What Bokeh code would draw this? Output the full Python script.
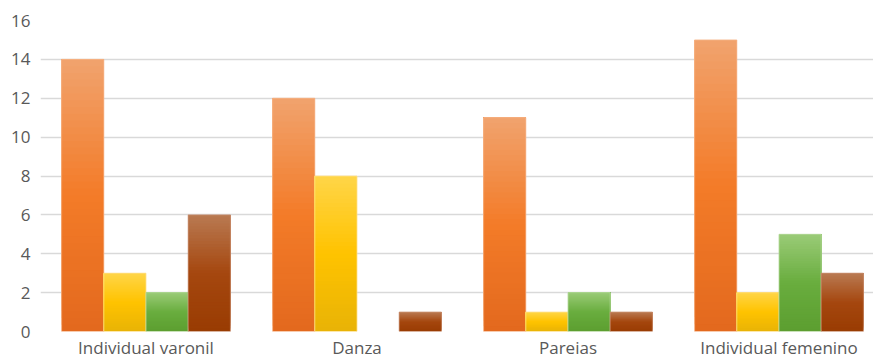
import numpy as np
from bokeh.plotting import figure
from bokeh.models import Range1d, FixedTicker
from bokeh.embed import file_html
from bokeh.resources import INLINE

categories = ["Individual varonil", "Danza", "Pareias", "Individual femenino"]
series_a = [14, 12, 11, 15]
series_b = [3, 8, 1, 2]
series_c = [2, 0, 2, 5]
series_d = [6, 1, 1, 3]
y_ticks = [0, 2, 4, 6, 8, 10, 12, 14, 16]

series = [series_a, series_b, series_c, series_d]
# gradient stops: bottom, middle, top
grads = [
    ("#E3691E", "#F37B28", "#F1A36E"),
    ("#E8B306", "#FFC300", "#FFD548"),
    ("#5C9E30", "#69AD3E", "#9ACB77"),
    ("#993C02", "#A5470F", "#B97A52"),
]
borders = ["#F6B58A", "#FFE08A", "#B5DA9C", "#C99070"]

def hex2rgb(h):
    h = h.lstrip("#")
    return np.array([int(h[i:i + 2], 16) for i in (0, 2, 4)], dtype=float)

def mix(stops, t):
    b, m, tp = [hex2rgb(s) for s in stops]
    if t < 0.5:
        c = b + (m - b) * (t / 0.5)
    else:
        c = m + (tp - m) * ((t - 0.5) / 0.5)
    return "#%02x%02x%02x" % tuple(int(round(v)) for v in c)

W, H = 873, 361
p = figure(width=W, height=H, output_backend="svg", toolbar_location=None,
           x_range=Range1d(0, (W - 40) / 211.0), y_range=Range1d(0, 16),
           min_border_left=40, min_border_right=0, min_border_top=20, min_border_bottom=0)
p.outline_line_color = None
p.background_fill_color = "white"
p.border_fill_color = "white"

bar_w = 0.2
offsets = [-0.3, -0.1, 0.1, 0.3]
N = 40
centers = np.arange(len(categories)) + 0.5
for s_idx, vals in enumerate(series):
    L, R, B, T, C = [], [], [], [], []
    for ci, v in enumerate(vals):
        if v <= 0:
            continue
        x0 = centers[ci] + offsets[s_idx] - bar_w / 2
        for k in range(N):
            # each slice reaches to the bar top; later slices overlay -> no seams
            L.append(x0); R.append(x0 + bar_w)
            B.append(v * k / N); T.append(v)
            C.append(mix(grads[s_idx], (k + 0.5) / N))
    p.quad(left=L, right=R, bottom=B, top=T, fill_color=C, line_color=None)
    xs = [centers[ci] + offsets[s_idx] for ci, v in enumerate(vals) if v > 0]
    hs = [v for v in vals if v > 0]
    p.vbar(x=xs, top=hs, bottom=0, width=bar_w, fill_color=None,
           line_color=borders[s_idx], line_width=1, line_alpha=0.8)

p.xgrid.grid_line_color = None
p.ygrid.grid_line_color = "#D9D9D9"
p.ygrid.grid_line_width = 1.5
p.ygrid.ticker = FixedTicker(ticks=y_ticks)
p.yaxis.ticker = FixedTicker(ticks=y_ticks)
p.xaxis.ticker = FixedTicker(ticks=list(centers))
p.xaxis.major_label_overrides = {float(c): n for c, n in zip(centers, categories)}

for ax in (p.xaxis, p.yaxis):
    ax.axis_line_color = None
    ax.major_tick_line_color = None
    ax.minor_tick_line_color = None
    ax.major_tick_out = 0
    ax.major_tick_in = 0
    ax.minor_tick_out = 0
    ax.minor_tick_in = 0
    ax.major_label_text_color = "#595959"
    ax.major_label_text_font = "Open Sans"
    ax.major_label_text_font_size = "17px"
p.yaxis.major_label_standoff = 10
p.xaxis.major_label_standoff = 4

open("out.html", "w").write(file_html(p, INLINE))
